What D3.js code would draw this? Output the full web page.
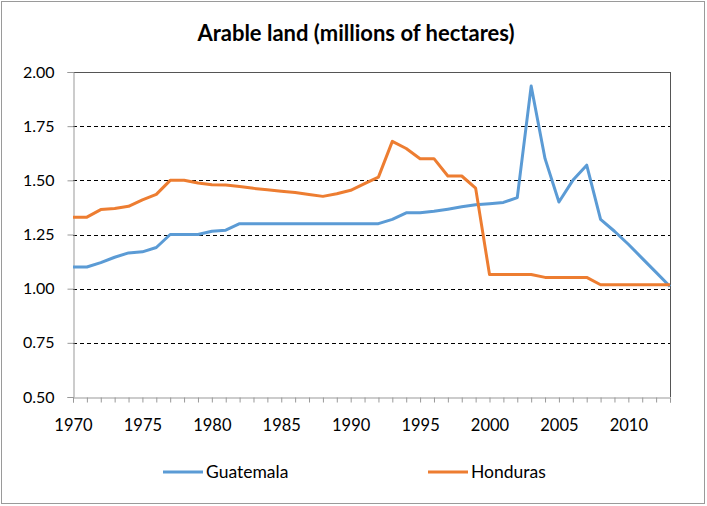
<!DOCTYPE html>
<html><head><meta charset="utf-8">
<script src="https://cdn.jsdelivr.net/npm/d3@7"></script>
<style>body{margin:0;background:#fff}svg{display:block}</style>
</head><body>
<script>
const years = d3.range(1970, 2014);
const guatemala = [1.10,1.10,1.12,1.145,1.165,1.17,1.19,1.25,1.25,1.25,1.265,1.27,1.30,1.30,1.30,1.30,1.30,1.30,1.30,1.30,1.30,1.30,1.30,1.32,1.35,1.35,1.357,1.367,1.378,1.387,1.392,1.398,1.42,1.935,1.60,1.40,1.50,1.57,1.32,1.265,1.205,1.14,1.075,1.01];
const honduras = [1.33,1.33,1.365,1.37,1.38,1.41,1.435,1.50,1.50,1.488,1.48,1.478,1.472,1.463,1.457,1.45,1.444,1.435,1.426,1.438,1.454,1.485,1.515,1.68,1.647,1.60,1.60,1.52,1.52,1.464,1.065,1.065,1.065,1.065,1.052,1.052,1.052,1.052,1.018,1.018,1.018,1.018,1.018,1.018];
const yTicks = [0.50,0.75,1.00,1.25,1.50,1.75,2.00];
const xLabels = [1970,1975,1980,1985,1990,1995,2000,2005,2010];
const series = [{name:"Guatemala", values:guatemala, color:"#5B9BD5"},{name:"Honduras", values:honduras, color:"#ED7D31"}];

const W=707,H=506;
const font = "Lato, 'Noto Sans', sans-serif";
const svg = d3.select("body").append("svg").attr("width",W).attr("height",H);
svg.append("rect").attr("x",1.5).attr("y",1.5).attr("width",W-4).attr("height",H-4).attr("fill","#fff").attr("stroke","#9a9a9a");

const L=73,R=670,T=72,B=397;
const x = d3.scaleLinear().domain([1970,2013]).range([L,R]);
const y = d3.scaleLinear().domain([0.5,2.0]).range([B,T]);

svg.append("text").attr("x",356).attr("y",41).attr("text-anchor","middle")
  .attr("font-family",font).attr("font-weight","bold").attr("font-size",22).attr("fill","#000")
  .text("Arable land (millions of hectares)");

// gridlines
svg.append("g").selectAll("line").data(yTicks.filter(v=>v>0.5&&v<2.0)).join("line")
  .attr("x1",L).attr("x2",R).attr("y1",d=>Math.round(y(d))+0.5).attr("y2",d=>Math.round(y(d))+0.5)
  .attr("stroke","#000").attr("stroke-dasharray","4,3").attr("stroke-width",1);
// plot border top/right
svg.append("line").attr("x1",L).attr("x2",R).attr("y1",T+0.5).attr("y2",T+0.5).attr("stroke","#555");
svg.append("line").attr("x1",R+0.5).attr("x2",R+0.5).attr("y1",T).attr("y2",B).attr("stroke","#555");

// y axis
const yAxis = d3.axisLeft(y).tickValues(yTicks).tickFormat(d3.format(".2f")).tickSize(6).tickPadding(13);
const gy = svg.append("g").attr("transform",`translate(${L+0.5},0)`).call(yAxis);
gy.select(".domain").attr("stroke","#999");
gy.selectAll(".tick line").attr("stroke","#999");
gy.selectAll("text").attr("font-family",font).attr("font-size",16).attr("fill","#000");

// x axis
const xAxis = d3.axisBottom(x).tickValues(years).tickSize(5).tickFormat(d=>xLabels.includes(d)?d:"").tickPadding(17);
const gx = svg.append("g").attr("transform",`translate(0,${B+0.5})`).call(xAxis);
gx.select(".domain").attr("stroke","#999");
gx.selectAll(".tick line").attr("stroke","#999");
gx.selectAll("text").attr("font-family",font).attr("font-size",16.5).attr("fill","#000");

const line = d3.line().x((d,i)=>x(years[i])).y(d=>y(d));
series.forEach(s=>{
  svg.append("path").datum(s.values).attr("d",line).attr("fill","none")
    .attr("stroke",s.color).attr("stroke-width",3).attr("stroke-linejoin","round");
});

// legend
const leg = [{x:163},{x:428}];
series.forEach((s,i)=>{
  const lx = leg[i].x;
  svg.append("line").attr("x1",lx).attr("x2",lx+40).attr("y1",472).attr("y2",472).attr("stroke",s.color).attr("stroke-width",3);
  svg.append("text").attr("x",lx+43).attr("y",478).attr("font-family",font).attr("font-size",17.5).attr("fill","#000").text(s.name);
});
</script>
</body></html>
